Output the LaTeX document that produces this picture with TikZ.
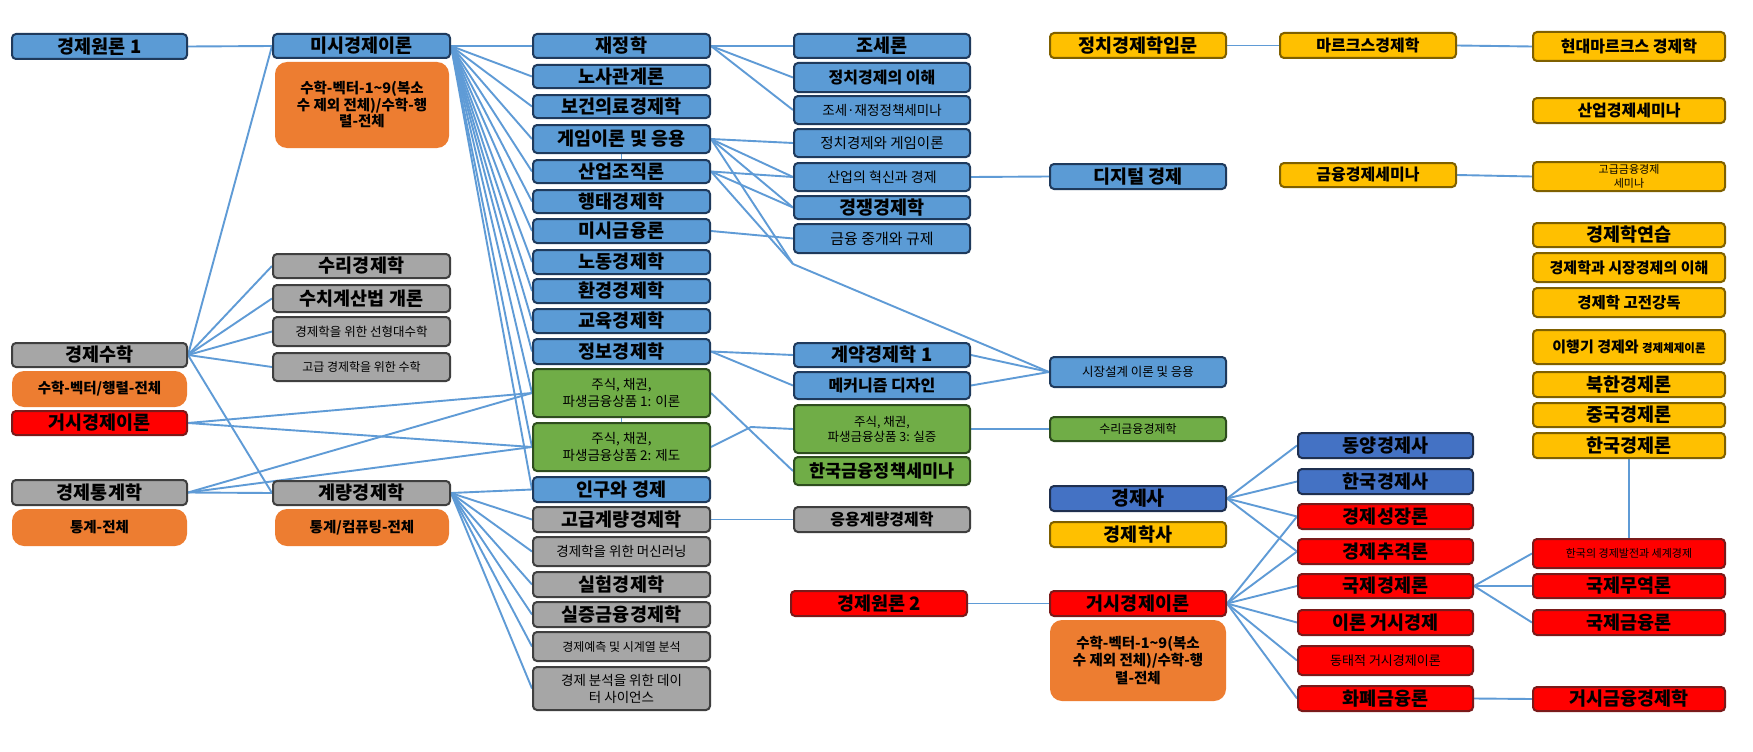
\documentclass[tikz,border=0pt]{standalone}
\usepackage{fontspec}
\setmainfont{Noto Sans CJK KR}
\usetikzlibrary{backgrounds}
\definecolor{blueF}{HTML}{5B9BD5}
\definecolor{blueB}{HTML}{1F3A5C}
\definecolor{dbF}{HTML}{4472C4}
\definecolor{dbB}{HTML}{1F3050}
\definecolor{grF}{HTML}{A6A6A6}
\definecolor{grB}{HTML}{3F3F3F}
\definecolor{rdF}{HTML}{FF0000}
\definecolor{rdB}{HTML}{7A1A1A}
\definecolor{gnF}{HTML}{70AD47}
\definecolor{gnB}{HTML}{2E4D1E}
\definecolor{ylF}{HTML}{FFC000}
\definecolor{ylB}{HTML}{7F6000}
\definecolor{ogF}{HTML}{ED7D31}
\definecolor{lnC}{HTML}{5F9BD6}
\newcommand\fz[2]{\fontsize{#1}{#2}\selectfont}
\newcommand\mkbox[7]{\node[#1,minimum width={(#4)-(#3)},minimum height={(#6)-(#5)}] (#2) at ({((#3)+(#4))/2},{((#5)+(#6))/2}) {#7};}
\begin{document}
\begin{tikzpicture}[x=1pt,y=-1pt,
  base/.style={rectangle,rounded corners=4pt,line width=2pt,inner sep=0pt,align=center,text=black,font=\fz{18.5}{21}\bfseries},
  bl/.style={base,draw=blueB,fill=blueF},
  db/.style={base,draw=dbB,fill=dbF},
  gr/.style={base,draw=grB,fill=grF},
  rd/.style={base,draw=rdB,fill=rdF},
  gn/.style={base,draw=gnB,fill=gnF},
  yl/.style={base,draw=ylB,fill=ylF},
  og/.style={base,draw=none,fill=ogF,rounded corners=12pt,font=\fz{14.5}{17}\bfseries},
  fs/.style 2 args={font=\fz{#1}{#2}\bfseries},
  fr/.style 2 args={font=\fz{#1}{#2}},
  ln/.style={draw=lnC,line width=1.9pt}]
\useasboundingbox (0,0) rectangle (1753,752);
% column 1
\mkbox{bl}{e1}{12}{187}{34}{59}{경제원론 1}
\mkbox{gr}{mathE}{12}{187}{343}{367}{경제수학}
\mkbox{og}{ogMath}{12}{187}{371}{407}{수학-벡터/행렬-전체}
\mkbox{rd}{macroL}{12}{187}{411}{435}{거시경제이론}
\mkbox{gr}{statE}{12}{187}{480}{505}{경제통계학}
\mkbox{og}{ogStat}{12}{187}{509}{546}{통계-전체}
% column 1b
\mkbox{bl}{micro}{273}{450}{34}{58}{미시경제이론}
\mkbox{og,fs={14.5}{16.5}}{ogMicro}{275}{449}{62}{148}{수학-벡터-1\textasciitilde9(복소\\수 제외 전체)/수학-행\\렬-전체}
\mkbox{gr}{sr}{273}{450}{254}{278}{수리경제학}
\mkbox{gr}{sc}{273}{450}{285}{312}{수치계산법 개론}
\mkbox{gr,fr={12.5}{15}}{la}{273}{450}{317}{346}{경제학을 위한 선형대수학}
\mkbox{gr,fr={12}{14}}{am}{273}{450}{353}{381}{고급 경제학을 위한 수학}
\mkbox{gr}{ecm}{273}{450}{481}{505}{계량경제학}
\mkbox{og}{ogEcm}{275}{449}{509}{546}{통계/컴퓨팅-전체}
% column 2
\mkbox{bl}{pf}{533}{710}{34}{58}{재정학}
\mkbox{bl}{lr}{533}{710}{65}{88}{노사관계론}
\mkbox{bl}{hl}{533}{710}{95}{118}{보건의료경제학}
\mkbox{bl}{gt}{533}{710}{125}{153}{게임이론 및 응용}
\mkbox{bl}{io}{533}{710}{160}{183}{산업조직론}
\mkbox{bl}{be}{533}{710}{190}{213}{행태경제학}
\mkbox{bl}{mf}{533}{710}{219}{243}{미시금융론}
\mkbox{bl}{lb}{533}{710}{250}{274}{노동경제학}
\mkbox{bl}{en}{533}{710}{279}{303}{환경경제학}
\mkbox{bl}{ed}{533}{710}{309}{333}{교육경제학}
\mkbox{bl}{ie}{533}{710}{339}{364}{정보경제학}
\mkbox{gn,fr={13.5}{16.5}}{s1}{533}{710}{369}{417}{주식, 채권,\\파생금융상품 1: 이론}
\mkbox{gn,fr={13.5}{16.5}}{s2}{533}{710}{423}{471}{주식, 채권,\\파생금융상품 2: 제도}
\mkbox{bl}{pop}{533}{710}{477}{502}{인구와 경제}
\mkbox{gr}{aec}{533}{710}{507}{532}{고급계량경제학}
\mkbox{gr,fr={13.5}{16}}{ml}{533}{710}{537}{566}{경제학을 위한 머신러닝}
\mkbox{gr}{ex}{533}{710}{572}{597}{실험경제학}
\mkbox{gr}{efe}{533}{710}{602}{627}{실증금융경제학}
\mkbox{gr,fr={12}{14}}{ts}{533}{710}{632}{661}{경제예측 및 시계열 분석}
\mkbox{gr,fr={13.5}{17}}{ds}{533}{710}{667}{710}{경제 분석을 위한 데이\\터 사이언스}
% column 3
\mkbox{bl}{tax}{794}{970}{34}{58}{조세론}
\mkbox{bl,fs={16}{18}}{pe}{794}{970}{63}{92}{정치경제의 이해}
\mkbox{bl,fr={13.5}{16}}{tfs}{794}{970}{96}{124}{조세·재정정책세미나}
\mkbox{bl,fr={14.5}{17}}{peg}{794}{970}{129}{157}{정치경제와 게임이론}
\mkbox{bl,fr={14}{16}}{inn}{794}{970}{163}{191}{산업의 혁신과 경제}
\mkbox{bl}{comp}{794}{970}{196}{219}{경쟁경제학}
\mkbox{bl,fr={15}{17}}{fin}{794}{970}{224}{253}{금융 중개와 규제}
\mkbox{bl}{con}{794}{970}{343}{367}{계약경제학 1}
\mkbox{bl,fs={16}{18}}{mech}{794}{970}{372}{399}{메커니즘 디자인}
\mkbox{gn,fr={12.5}{15}}{s3}{794}{970}{405}{453}{주식, 채권,\\파생금융상품 3: 실증}
\mkbox{gn,fs={17.5}{19}}{kfp}{794}{970}{457}{485}{한국금융정책세미나}
\mkbox{gr,fs={16}{18}}{aecm}{794}{970}{507}{532}{응용계량경제학}
\mkbox{rd}{e2}{791}{967}{591}{616}{경제원론 2}
% column 4
\mkbox{yl}{ipe}{1050}{1226}{33}{58}{정치경제학입문}
\mkbox{bl}{dig}{1050}{1226}{164}{189}{디지털 경제}
\mkbox{bl,fr={12.5}{15}}{md}{1050}{1226}{357}{387}{시장설계 이론 및 응용}
\mkbox{gn,fr={12}{14}}{mfe}{1050}{1226}{417}{441}{수리금융경제학}
\mkbox{db,fs={19.5}{21}}{eh}{1050}{1226}{486}{511}{경제사}
\mkbox{yl}{hist}{1050}{1226}{522}{547}{경제학사}
\mkbox{rd}{macro}{1050}{1226}{591}{616}{거시경제이론}
\mkbox{og,fs={14.5}{17.5}}{ogMacro}{1050}{1226}{620}{701}{수학-벡터-1\textasciitilde9(복소\\수 제외 전체)/수학-행\\렬-전체}
% column 5
\mkbox{yl,fs={16}{18}}{marx}{1280}{1456}{33}{58}{마르크스경제학}
\mkbox{yl,fs={16}{18}}{fsem}{1280}{1456}{163}{187}{금융경제세미나}
\mkbox{db}{eah}{1298}{1473}{433}{458}{동양경제사}
\mkbox{db}{keh}{1298}{1473}{469}{494}{한국경제사}
\mkbox{rd}{gro}{1298}{1473}{504}{529}{경제성장론}
\mkbox{rd}{cat}{1298}{1473}{539}{564}{경제추격론}
\mkbox{rd}{ie2}{1298}{1473}{574}{598}{국제경제론}
\mkbox{rd}{tm}{1298}{1473}{610}{635}{이론 거시경제}
\mkbox{rd,fr={13}{15}}{dyn}{1298}{1473}{646}{675}{동태적 거시경제이론}
\mkbox{rd}{mon}{1298}{1473}{686}{711}{화폐금융론}
% column 6
\mkbox{yl,fs={16}{18}}{mmarx}{1533}{1725}{32}{61}{현대마르크스 경제학}
\mkbox{yl,fs={16}{18}}{isem}{1533}{1725}{98}{123}{산업경제세미나}
\mkbox{yl,fr={11}{14}}{afs}{1533}{1725}{162}{191}{고급금융경제\\세미나}
\mkbox{yl}{prac}{1533}{1725}{223}{247}{경제학연습}
\mkbox{yl,fs={15}{17}}{mkt}{1533}{1725}{253}{282}{경제학과 시장경제의 이해}
\mkbox{yl,fs={15.5}{17}}{cls}{1533}{1725}{288}{317}{경제학 고전강독}
\mkbox{yl,fs={15}{17}}{trans}{1533}{1725}{330}{364}{이행기 경제와 {\fz{11.5}{14}경제체제이론}}
\mkbox{yl}{nk}{1533}{1725}{372}{397}{북한경제론}
\mkbox{yl}{cn}{1533}{1725}{403}{427}{중국경제론}
\mkbox{yl}{kr}{1533}{1725}{433}{458}{한국경제론}
\mkbox{rd,fr={11}{13}}{kdev}{1533}{1725}{539}{568}{한국의 경제발전과 세계경제}
\mkbox{rd}{trade}{1533}{1725}{574}{598}{국제무역론}
\mkbox{rd}{ifin}{1533}{1725}{610}{635}{국제금융론}
\mkbox{rd}{mfin}{1533}{1725}{687}{711}{거시금융경제학}
\coordinate (kA) at (793,264);
\coordinate (kB) at (751,427);
\begin{pgfonlayer}{background}
\fill[white] (0,0) rectangle (1753,752);
\draw[ln] (e1.east) -- (micro.west);
\foreach \t in {micro,sr,sc,la,am,ecm} \draw[ln] (mathE.east) -- (\t.west);
\foreach \t in {s1,s2} \draw[ln] (macroL.east) -- (\t.west);
\foreach \t in {s1,s2,ecm} \draw[ln] (statE.east) -- (\t.west);
\foreach \t in {pf,lr,hl,gt,io,be,mf,lb,en,ed,ie,s1,s2,pop} \draw[ln] (micro.east) -- (\t.west);
\foreach \t in {pop,aec,ml,ex,efe,ts,ds} \draw[ln] (ecm.east) -- (\t.west);
\foreach \t in {tax,pe,tfs} \draw[ln] (pf.east) -- (\t.west);
\foreach \t in {peg,inn,comp} \draw[ln] (gt.east) -- (\t.west);
\foreach \t in {inn,comp} \draw[ln] (io.east) -- (\t.west);
\draw[ln] (gt.east) -- (kA);
\draw[ln] (io.east) -- (kA);
\draw[ln] (kA) -- (md.west);
\draw[ln] (gt.south) -- (io.north);
\draw[ln] (mf.east) -- (fin.west);
\draw[ln] (inn.east) -- (dig.west);
\foreach \t in {con,mech} \draw[ln] (ie.east) -- (\t.west);
\draw[ln] (con.east) -- (md.west);
\draw[ln] (mech.east) -- (md.west);
\draw[ln] (s1.south) -- (s2.north);
\draw[ln] (s1.east) -- (kfp.west);
\draw[ln] (s2.east) -- (kB) -- (s3.west);
\draw[ln] (s3.east) -- (mfe.west);
\draw[ln] (aec.east) -- (aecm.west);
\draw[ln] (e2.east) -- (macro.west);
\draw[ln] (ipe.east) -- (marx.west);
\draw[ln] (marx.east) -- (mmarx.west);
\draw[ln] (fsem.east) -- (afs.west);
\draw[ln] (kr.south) -- (kdev.north);
\foreach \t in {eah,keh,gro,cat} \draw[ln] (eh.east) -- (\t.west);
\foreach \t in {gro,cat,ie2,tm,dyn,mon} \draw[ln] (macro.east) -- (\t.west);
\foreach \t in {kdev,trade,ifin} \draw[ln] (ie2.east) -- (\t.west);
\draw[ln] (mon.east) -- (mfin.west);
\end{pgfonlayer}
\end{tikzpicture}
\end{document}
